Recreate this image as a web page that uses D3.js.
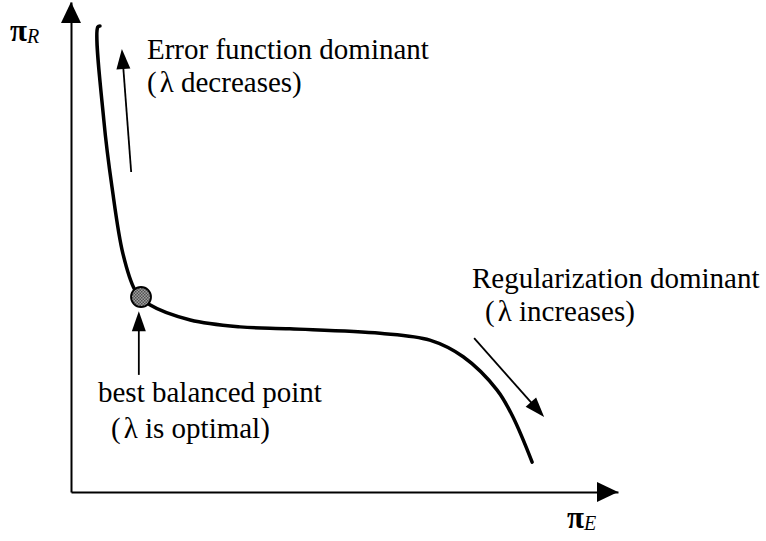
<!DOCTYPE html>
<html>
<head>
<meta charset="utf-8">
<script src="https://cdn.jsdelivr.net/npm/d3@7/dist/d3.min.js"></script>
<style>
  html, body { margin: 0; padding: 0; background: #fff; }
</style>
</head>
<body>
<svg id="chart" width="766" height="541"></svg>
<script>
// Trade-off curve between the error term (πE) and the regularization term (πR)
const curveE = [0.53, 0.49, 0.60, 0.75, 0.95, 1.17, 1.28, 1.44, 2.18, 3.09, 4.00, 5.65, 6.56, 7.17, 7.79, 8.08, 8.43];
const curveR = [9.51, 9.49, 7.59, 6.22, 4.86, 4.12, 3.98, 3.82, 3.51, 3.37, 3.33, 3.24, 3.10, 2.76, 2.08, 1.53, 0.61];

// best balanced point on the curve
const bestPoint = [1.28, 3.98];

// direction arrows: [fromE, fromR, toE, toR]
const arrowDecrease = [1.10, 6.53, 0.93, 9.04];
const arrowOptimal  = [1.24, 2.39, 1.24, 3.69];
const arrowIncrease = [7.37, 3.14, 8.65, 1.53];

const xDomain = [0, 10];
const yDomain = [0, 10];

const SERIF = "'Liberation Serif', 'Times New Roman', Times, 'DejaVu Serif', serif";

const svg = d3.select("#chart");

const x = d3.scaleLinear().domain(xDomain).range([71, 618]);
const y = d3.scaleLinear().domain(yDomain).range([492, 2]);

// axes without ticks, each ending in a filled arrowhead
const gx = svg.append("g").attr("transform", `translate(0,${y(0)})`)
  .call(d3.axisBottom(x).ticks(0).tickSizeOuter(0));
const gy = svg.append("g").attr("transform", `translate(${x(0)},0)`)
  .call(d3.axisLeft(y).ticks(0).tickSizeOuter(0));
[gx, gy].forEach(g => g.select(".domain").attr("stroke", "#000").attr("stroke-width", 2));

function arrowHead(tipX, tipY, angle, len, half) {
  const bx = tipX - len * Math.cos(angle), by = tipY - len * Math.sin(angle);
  const px = -Math.sin(angle) * half, py = Math.cos(angle) * half;
  svg.append("path")
    .attr("d", `M${tipX},${tipY}L${bx + px},${by + py}L${bx - px},${by - py}Z`)
    .attr("fill", "#000");
}
arrowHead(x(xDomain[1]), y(0), 0, 21, 10);
arrowHead(x(0), y(yDomain[1]), -Math.PI / 2, 21, 10);

// the curve
const pts = curveE.map((e, i) => [e, curveR[i]]);
const line = d3.line().x(d => x(d[0])).y(d => y(d[1])).curve(d3.curveCatmullRom.alpha(0.5));
svg.append("path").datum(pts)
  .attr("d", line)
  .attr("fill", "none")
  .attr("stroke", "#000")
  .attr("stroke-width", 3.5)
  .attr("stroke-linecap", "round");

// direction arrows
function drawArrow(a) {
  const x1 = x(a[0]), y1 = y(a[1]), x2 = x(a[2]), y2 = y(a[3]);
  const ang = Math.atan2(y2 - y1, x2 - x1);
  const len = 20;
  svg.append("line")
    .attr("x1", x1).attr("y1", y1)
    .attr("x2", x2 - (len - 2) * Math.cos(ang)).attr("y2", y2 - (len - 2) * Math.sin(ang))
    .attr("stroke", "#000").attr("stroke-width", 1.8);
  arrowHead(x2, y2, ang, len, 7);
}
[arrowDecrease, arrowOptimal, arrowIncrease].forEach(drawArrow);

// checkered fill for the marker
const defs = svg.append("defs");
const pat = defs.append("pattern").attr("id", "checker")
  .attr("width", 3).attr("height", 3).attr("patternUnits", "userSpaceOnUse");
pat.append("rect").attr("width", 3).attr("height", 3).attr("fill", "#a0a0a0");
pat.append("rect").attr("width", 1.5).attr("height", 1.5).attr("fill", "#505050");
pat.append("rect").attr("x", 1.5).attr("y", 1.5).attr("width", 1.5).attr("height", 1.5).attr("fill", "#505050");

svg.append("circle")
  .attr("cx", x(bestPoint[0])).attr("cy", y(bestPoint[1]))
  .attr("r", 10)
  .attr("fill", "url(#checker)")
  .attr("stroke", "#000").attr("stroke-width", 1.8);

// text labels
function label(tx, ty, parts) {
  const t = svg.append("text").attr("x", tx).attr("y", ty)
    .attr("font-family", SERIF).attr("font-size", 29).attr("fill", "#000");
  parts.forEach(p => {
    const s = t.append("tspan").text(p.text);
    if (p.dx) s.attr("dx", p.dx);
  });
}
label(147, 59, [{ text: "Error function dominant" }]);
label(147, 92, [{ text: "(" }, { text: "λ decreases)", dx: 3 }]);
label(472, 288, [{ text: "Regularization dominant" }]);
label(485, 321, [{ text: "(" }, { text: "λ increases)", dx: 3 }]);
label(98, 402, [{ text: "best balanced point" }]);
label(111, 438, [{ text: "(" }, { text: "λ is optimal)", dx: 3 }]);

// axis titles
function axisTitle(tx, ty, sub) {
  const t = svg.append("text").attr("x", tx).attr("y", ty)
    .attr("font-family", SERIF).attr("font-size", 31).attr("fill", "#000");
  t.append("tspan").text("π").attr("font-weight", "bold");
  t.append("tspan").text(sub).attr("font-style", "italic").attr("font-size", 20).attr("dy", 2);
}
axisTitle(10, 41, "R");
axisTitle(567, 528, "E");
</script>
</body>
</html>
